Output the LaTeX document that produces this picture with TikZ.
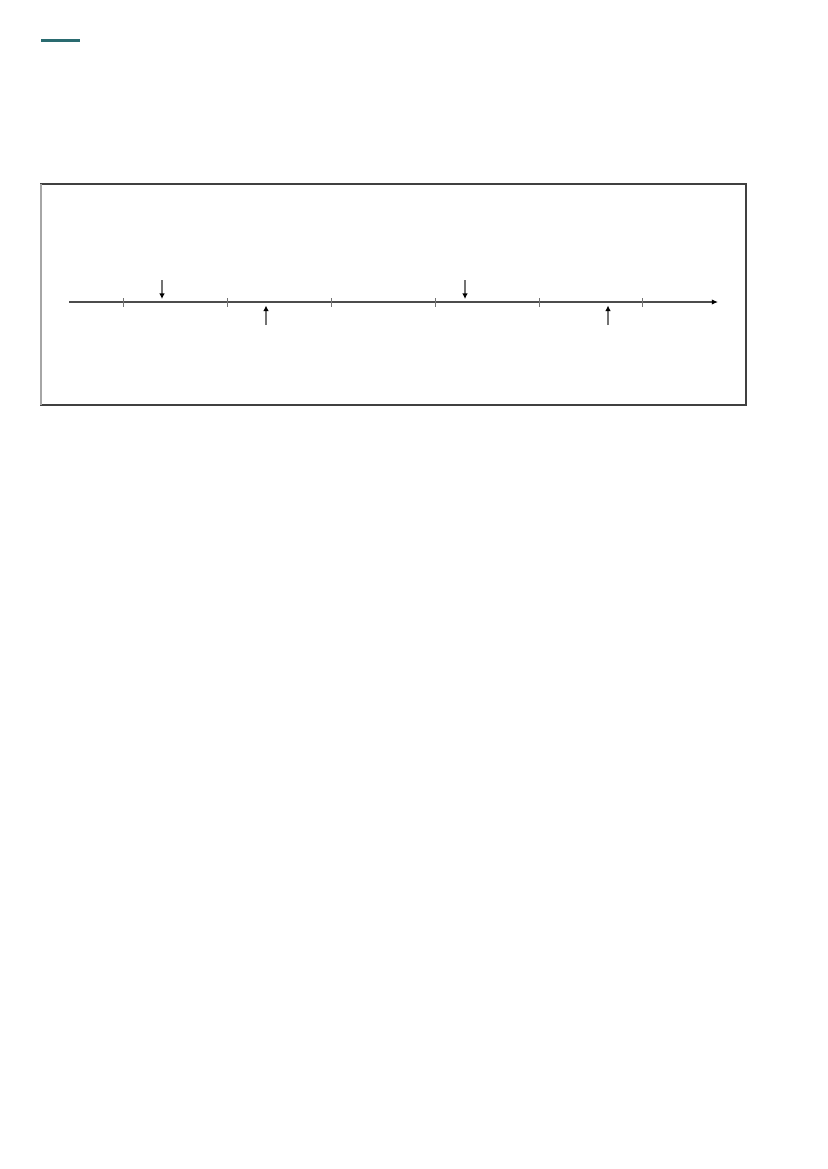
\documentclass[tikz,border=0pt]{standalone}
\usetikzlibrary{arrows.meta,positioning}
\definecolor{barteal}{HTML}{2A6B70}
\begin{document}
\begin{tikzpicture}[x=0.2539mm,y=-0.2539mm,
    frame/.style={draw=black!75,line width=0.8pt},
    axis line/.style={draw=black!70,line width=1pt,-{Latex[black,length=4.5pt,width=4pt]}},
    tick mark/.style={draw=black!55,line width=0.6pt},
    marker/.style={draw=black!55,line width=0.8pt,-{Latex[black,length=4pt,width=4pt]}}]
  \useasboundingbox (0,0) rectangle (827,1169);

  % header bar
  \coordinate (bar left) at (41,40.5);
  \coordinate (bar right) at (80,40.5);
  \draw[barteal,line width=2.2pt] (bar left) -- (bar right);

  % frame
  \coordinate (frame nw) at (41,184);
  \coordinate (frame se) at (746,405);
  \draw[frame] (frame nw) rectangle (frame se);
  \draw[draw=black!35,line width=0.9pt] (frame nw) -- (41,405);

  % time axis
  \coordinate (axis start) at (69,302);
  \coordinate (axis end) at (718,302);
  \draw[axis line] (axis start) -- (axis end);
  \foreach \x in {123,227,331,435,539,642}
    \draw[tick mark] (\x,298) -- (\x,306.5);

  % markers above (pointing down)
  \foreach \x/\name in {162/a,465/b} {
    \coordinate (top \name) at (\x,280);
    \coordinate (hit \name) at (\x,299);
    \draw[marker] (top \name) -- (hit \name);
  }
  % markers below (pointing up)
  \foreach \x/\name in {266/c,608/d} {
    \coordinate (low \name) at (\x,325);
    \coordinate (hit \name) at (\x,305.5);
    \draw[marker] (low \name) -- (hit \name);
  }
\end{tikzpicture}
\end{document}
